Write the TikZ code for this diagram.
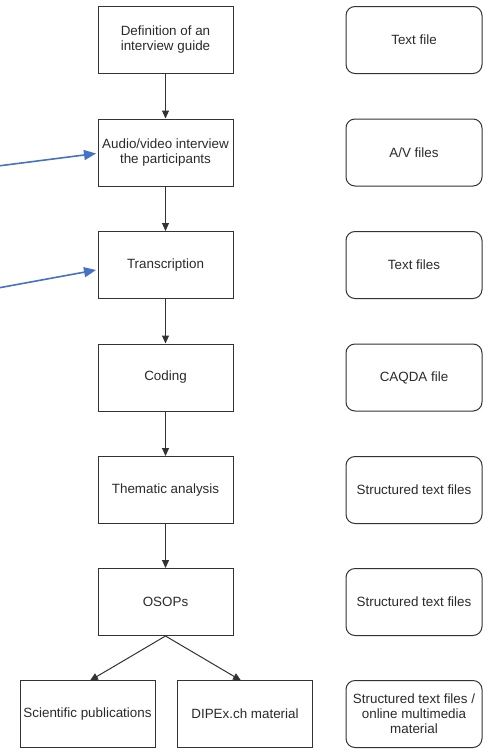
\documentclass[tikz,border=0pt]{standalone}
\usepackage{fontspec}
\setmainfont{Liberation Sans}
\usetikzlibrary{arrows.meta}
\definecolor{ln}{HTML}{333333}
\definecolor{tx}{HTML}{2A2A2A}
\definecolor{bl}{HTML}{4472C4}
\begin{document}
\begin{tikzpicture}[x=1pt,y=-1pt,
  stepbox/.style={draw=ln,line width=1pt,minimum width=135pt,minimum height=67pt,align=center,font=\fontsize{13.4}{15}\selectfont,text=tx,inner sep=1pt},
  filebox/.style={stepbox,rounded corners=9pt,minimum width=136pt},
  flow/.style={draw=ln,line width=1pt,-{Triangle[length=8pt,width=7pt]}},
  blue/.style={draw=bl,line width=1.6pt,-{Triangle[length=12pt,width=10pt]}}]
\useasboundingbox (0,0) rectangle (487,750);
\node[stepbox] (s1) at (165.5,40) {Definition of an\\interview guide};
\node[stepbox] (s2) at (165.5,152.5) {Audio/video interview\\the participants};
\node[stepbox] (s3) at (165.5,265) {Transcription};
\node[stepbox] (s4) at (165.5,377.5) {Coding};
\node[stepbox] (s5) at (165.5,490) {Thematic analysis};
\node[stepbox] (s6) at (165.5,602) {OSOPs};
\node[stepbox] (p1) at (87.5,714) {Scientific publications};
\node[stepbox] (p2) at (245,714) {DIPEx.ch material};
\node[filebox] (f1) at (414,40) {Text file};
\node[filebox] (f2) at (414,152.5) {A/V files};
\node[filebox] (f3) at (414,265) {Text files};
\node[filebox] (f4) at (414,377.5) {CAQDA file};
\node[filebox] (f5) at (414,490) {Structured text files};
\node[filebox] (f6) at (414,602) {Structured text files};
\node[filebox] (f7) at (414,714) {Structured text files /\\online multimedia\\material};
\draw[flow] (s1) -- (s2);
\draw[flow] (s2) -- (s3);
\draw[flow] (s3) -- (s4);
\draw[flow] (s4) -- (s5);
\draw[flow] (s5) -- (s6);
\draw[flow] (s6.south) -- (90,680.5);
\draw[flow] (s6.south) -- (241,680.5);
\coordinate (b1) at (-2,166);
\coordinate (b2) at (-2,288);
\draw[blue] (b1) -- (96,153.5);
\draw[blue] (b2) -- (96,270);
\end{tikzpicture}
\end{document}
